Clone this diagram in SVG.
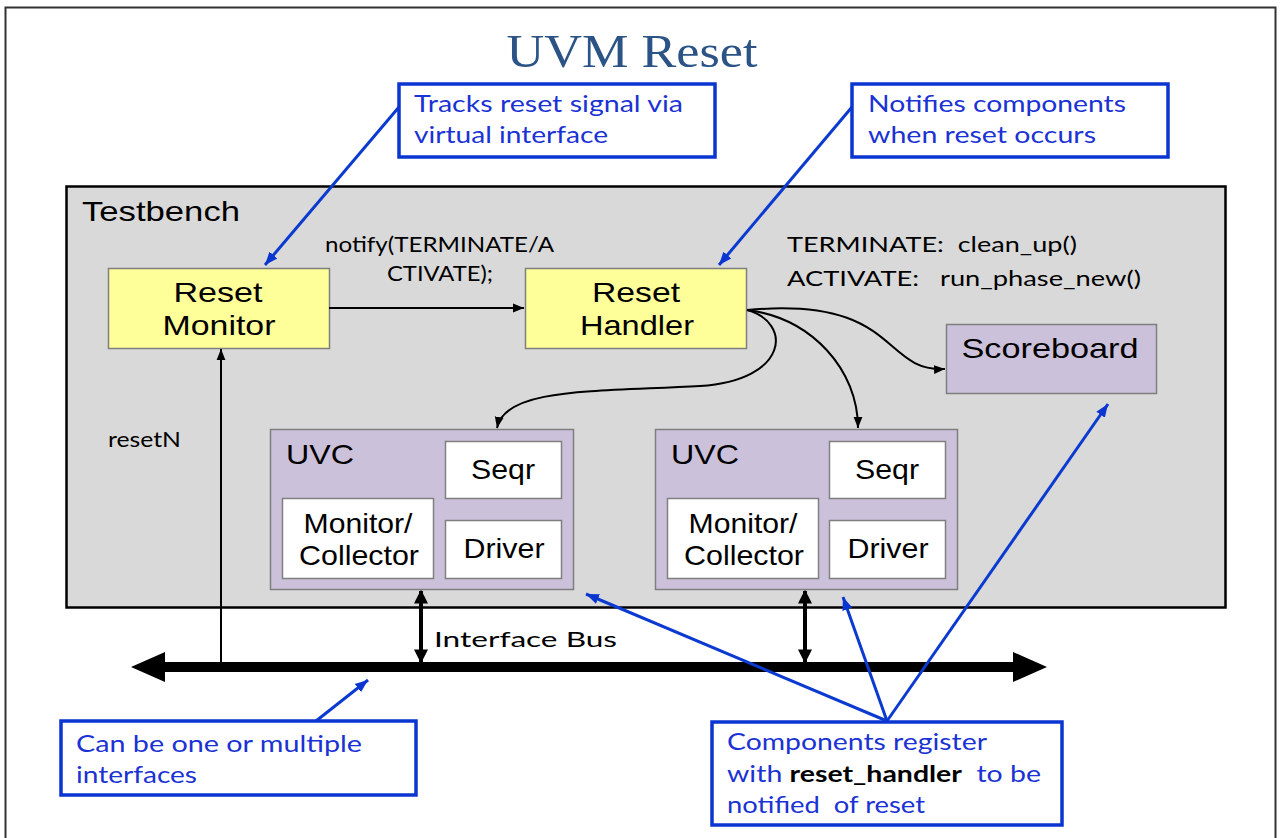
<svg xmlns="http://www.w3.org/2000/svg" width="1280" height="838" viewBox="0 0 1280 838">
<defs>
<marker id="ah" viewBox="0 0 10 10" refX="10" refY="5" markerWidth="11" markerHeight="11" markerUnits="userSpaceOnUse" orient="auto-start-reverse"><path d="M0,1 L10,5 L0,9 z" fill="#000"/></marker>
<marker id="ahb" viewBox="0 0 10 10" refX="10" refY="5" markerWidth="13" markerHeight="13" markerUnits="userSpaceOnUse" orient="auto"><path d="M0,1 L10,5 L0,9 z" fill="#0B35D0"/></marker>
<marker id="ahw" viewBox="0 0 10 10" refX="9" refY="5" markerWidth="14" markerHeight="14" markerUnits="userSpaceOnUse" orient="auto-start-reverse"><path d="M0,0 L10,5 L0,10 z" fill="#000"/></marker>
</defs>
<style>
.node{stroke:#7f7f7f;stroke-width:1.5}
.yel{fill:#FFFF99}
.pur{fill:#CCC1DA}
.wht{fill:#fff}
.t{font-family:"Liberation Sans",Arial,sans-serif;font-size:28px;fill:#000}
.c{font-family:Lato,"Open Sans",sans-serif;font-size:21px;fill:#000}
.call{fill:none;stroke:#0B35D0;stroke-width:3.5}
.ct{font-family:Lato,"Open Sans",sans-serif;font-size:23px;fill:#1B32D4}
.bl{stroke:#0B3AD0;stroke-width:3;fill:none}
.k{stroke:#000;stroke-width:2;fill:none}
</style>
<rect x="0" y="0" width="1280" height="838" fill="#fff"/>
<rect x="5.5" y="7.5" width="1270" height="840" fill="#fff" stroke="#333" stroke-width="2"/>
<text x="632" y="67" text-anchor="middle" font-family="'Liberation Serif','DejaVu Serif',serif" font-size="46" fill="#2B5386" textLength="251" lengthAdjust="spacingAndGlyphs">UVM Reset</text>

<g id="testbench">
<rect x="66.5" y="186.5" width="1159" height="421" fill="#D9D9D9" stroke="#000" stroke-width="2.5"/>
<text class="t" x="82" y="221" textLength="158" lengthAdjust="spacingAndGlyphs">Testbench</text>
</g>

<g id="reset-monitor">
<rect class="node yel" x="108.5" y="268.5" width="221" height="80"/>
<text class="t" x="218" y="302" text-anchor="middle" textLength="89" lengthAdjust="spacingAndGlyphs">Reset</text>
<text class="t" x="219" y="335" text-anchor="middle" textLength="113" lengthAdjust="spacingAndGlyphs">Monitor</text>
</g>

<g id="reset-handler">
<rect class="node yel" x="525.5" y="268.5" width="221" height="80"/>
<text class="t" x="636" y="302" text-anchor="middle" textLength="88" lengthAdjust="spacingAndGlyphs">Reset</text>
<text class="t" x="637" y="335" text-anchor="middle" textLength="114" lengthAdjust="spacingAndGlyphs">Handler</text>
</g>

<g id="scoreboard">
<rect class="node pur" x="946.5" y="324.5" width="210" height="69"/>
<text class="t" x="1050" y="358" text-anchor="middle" textLength="177" lengthAdjust="spacingAndGlyphs">Scoreboard</text>
</g>

<g id="uvc1">
<rect class="node pur" x="270.5" y="429.5" width="303" height="160"/>
<text class="t" x="286" y="464" textLength="68" lengthAdjust="spacingAndGlyphs">UVC</text>
<rect class="node wht" x="445.5" y="441.5" width="116" height="57"/>
<text class="t" x="503" y="479" text-anchor="middle" textLength="64" lengthAdjust="spacingAndGlyphs">Seqr</text>
<rect class="node wht" x="282.5" y="498.5" width="151" height="80"/>
<text class="t" x="358" y="533" text-anchor="middle" textLength="109" lengthAdjust="spacingAndGlyphs">Monitor/</text>
<text class="t" x="359" y="565" text-anchor="middle" textLength="120" lengthAdjust="spacingAndGlyphs">Collector</text>
<rect class="node wht" x="445.5" y="520.5" width="116" height="58"/>
<text class="t" x="504" y="558" text-anchor="middle" textLength="81" lengthAdjust="spacingAndGlyphs">Driver</text>
</g>

<g id="uvc2">
<rect class="node pur" x="655.5" y="429.5" width="302" height="160"/>
<text class="t" x="671" y="464" textLength="68" lengthAdjust="spacingAndGlyphs">UVC</text>
<rect class="node wht" x="829.5" y="441.5" width="116" height="57"/>
<text class="t" x="887" y="479" text-anchor="middle" textLength="64" lengthAdjust="spacingAndGlyphs">Seqr</text>
<rect class="node wht" x="667.5" y="498.5" width="151" height="80"/>
<text class="t" x="743" y="533" text-anchor="middle" textLength="109" lengthAdjust="spacingAndGlyphs">Monitor/</text>
<text class="t" x="744" y="565" text-anchor="middle" textLength="120" lengthAdjust="spacingAndGlyphs">Collector</text>
<rect class="node wht" x="829.5" y="520.5" width="116" height="58"/>
<text class="t" x="888" y="558" text-anchor="middle" textLength="81" lengthAdjust="spacingAndGlyphs">Driver</text>
</g>

<g id="labels">
<text class="c" x="325" y="252" textLength="229" lengthAdjust="spacingAndGlyphs">notify(TERMINATE/A</text>
<text class="c" x="387" y="281" textLength="106" lengthAdjust="spacingAndGlyphs">CTIVATE);</text>
<text class="c" x="787" y="252" textLength="290" lengthAdjust="spacingAndGlyphs" xml:space="preserve">TERMINATE:  clean_up()</text>
<text class="c" x="787" y="286" textLength="354" lengthAdjust="spacingAndGlyphs" xml:space="preserve">ACTIVATE:   run_phase_new()</text>
<text class="c" x="108" y="447" font-size="19" textLength="73" lengthAdjust="spacingAndGlyphs">resetN</text>
<text class="c" x="434" y="647" font-size="24" textLength="183" lengthAdjust="spacingAndGlyphs">Interface Bus</text>
</g>

<g id="connectors">
<line class="k" x1="329" y1="308" x2="524" y2="308" marker-end="url(#ah)"/>
<line class="k" x1="221" y1="666" x2="221" y2="349" marker-end="url(#ah)"/>
<path class="k" d="M747,310 C900,296 880,372 945,369" marker-end="url(#ah)"/>
<path class="k" d="M747,310 C812,318 858,370 858,428" marker-end="url(#ah)"/>
<path class="k" d="M747,310 C792,322 790,380 700,386 C590,392 505,388 497,428" marker-end="url(#ah)"/>
<line x1="421" y1="591" x2="421" y2="662" stroke="#000" stroke-width="4" marker-start="url(#ahw)" marker-end="url(#ahw)"/>
<line x1="805" y1="591" x2="805" y2="662" stroke="#000" stroke-width="4" marker-start="url(#ahw)" marker-end="url(#ahw)"/>
<polygon points="131,667 165,652 165,662 1013,662 1013,652 1047,667 1013,682 1013,672 165,672 165,682" fill="#000"/>
<line class="bl" x1="399" y1="107" x2="265" y2="265" marker-end="url(#ahb)"/>
<line class="bl" x1="852" y1="107" x2="719" y2="265" marker-end="url(#ahb)"/>
<line class="bl" x1="316" y1="721" x2="368" y2="680" marker-end="url(#ahb)"/>
<line class="bl" x1="887" y1="721" x2="586" y2="594" marker-end="url(#ahb)"/>
<line class="bl" x1="887" y1="721" x2="843" y2="597" marker-end="url(#ahb)"/>
<line class="bl" x1="887" y1="721" x2="1108" y2="404" marker-end="url(#ahb)"/>
</g>

<g id="callout-tracks">
<rect class="call" x="399" y="84" width="316" height="73" fill="#fff"/>
<text class="ct" x="414" y="112" textLength="269" lengthAdjust="spacingAndGlyphs">Tracks reset signal via</text>
<text class="ct" x="414" y="143" textLength="194" lengthAdjust="spacingAndGlyphs">virtual interface</text>
</g>

<g id="callout-notifies">
<rect class="call" x="852" y="84" width="316" height="73" fill="#fff"/>
<text class="ct" x="868" y="112" textLength="258" lengthAdjust="spacingAndGlyphs">Notifies components</text>
<text class="ct" x="868" y="143" textLength="228" lengthAdjust="spacingAndGlyphs">when reset occurs</text>
</g>

<g id="callout-interfaces">
<rect class="call" x="61" y="721" width="355" height="74" fill="#fff"/>
<text class="ct" x="76" y="752" textLength="286" lengthAdjust="spacingAndGlyphs">Can be one or multiple</text>
<text class="ct" x="76" y="783" textLength="121" lengthAdjust="spacingAndGlyphs">interfaces</text>
</g>

<g id="callout-register">
<rect class="call" x="712" y="722" width="350" height="103" fill="#fff"/>
<text class="ct" x="727" y="750" textLength="260" lengthAdjust="spacingAndGlyphs">Components register</text>
<text class="ct" x="727" y="782" textLength="314" lengthAdjust="spacingAndGlyphs" xml:space="preserve">with <tspan font-weight="bold" fill="#000">reset_handler</tspan>  to be</text>
<text class="ct" x="727" y="813" textLength="198" lengthAdjust="spacingAndGlyphs" xml:space="preserve">notified  of reset</text>
</g>
</svg>
